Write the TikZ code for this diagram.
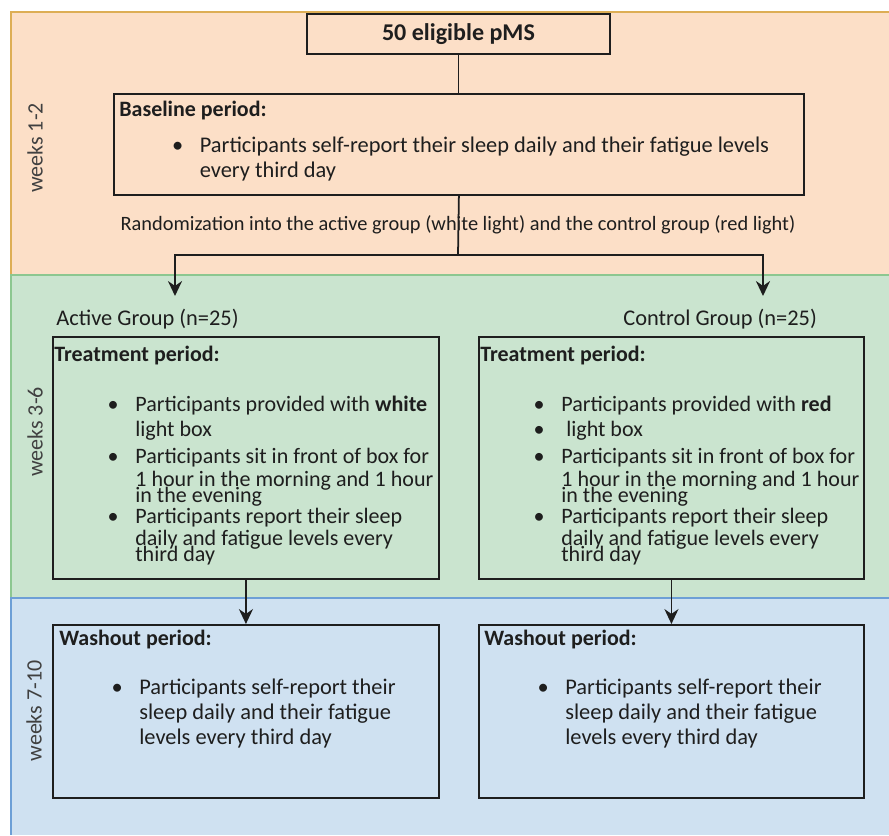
\documentclass[tikz,border=0pt]{standalone}
\usepackage{fontspec}
\setmainfont{Carlito}
\usetikzlibrary{arrows.meta}

\definecolor{peach}{HTML}{FCDFC7}
\definecolor{peachline}{HTML}{DDAE55}
\definecolor{mint}{HTML}{CAE4CF}
\definecolor{mintline}{HTML}{8CC790}
\definecolor{sky}{HTML}{CFE1F1}
\definecolor{skyline}{HTML}{6D9FD6}
\definecolor{ink}{HTML}{1E1E1E}
\newcommand{\bul}{\llap{\textbullet\hspace{9.5pt}}}
\newcommand{\bodyfont}{\fontsize{12.75}{15}\selectfont}

\begin{document}
\begin{tikzpicture}[x=0.02cm,y=-0.02cm,>={Stealth[length=8.5pt,width=8pt]},
  box/.style={draw=ink,line width=1.1pt,anchor=north west,inner sep=0pt},
  ln/.style={anchor=base west,inner sep=0pt,text=ink,font=\bodyfont},
  tl/.style={ln,font=\fontsize{12.55}{15}\selectfont},
  hd/.style={ln,font=\fontsize{12.5}{15}\selectfont\bfseries},
  conn/.style={draw=ink,line width=1pt},
  wk/.style={rotate=90,inner sep=0pt,text=ink!85,font=\fontsize{12.5}{15}\selectfont}]
\useasboundingbox (0,0) rectangle (889,835);

% phase bands
\fill[peach] (11,12) rectangle (889,275);
\fill[mint] (11,275) rectangle (889,598);
\fill[sky] (11,598) rectangle (889,835);
\draw[peachline,line width=1.2pt] (889,12) -- (11,12) -- (11,275);
\draw[mintline,line width=1.2pt] (889,275) -- (11,275) -- (11,598);
\draw[skyline,line width=1.2pt] (889,598) -- (11,598) -- (11,835);

\node[wk] (wk1) at (35,148) {weeks 1-2};
\node[wk] (wk2) at (35,432) {weeks 3-6};
\node[wk] (wk3) at (34,711) {weeks 7-10};

% boxes
\node[box,minimum width=6.06cm,minimum height=0.8cm,text=ink,
  font=\fontsize{13.7}{16}\selectfont\bfseries] (pms) at (306,13) {50 eligible pMS};
\node[box,minimum width=13.8cm,minimum height=2.02cm] (base) at (113,93) {};
\node[box,minimum width=7.72cm,minimum height=4.84cm] (treatA) at (52,336) {};
\node[box,minimum width=7.70cm,minimum height=4.84cm] (treatC) at (478,336) {};
\node[box,minimum width=7.72cm,minimum height=3.46cm] (washA) at (52,624) {};
\node[box,minimum width=7.70cm,minimum height=3.46cm] (washC) at (478,624) {};

% baseline text
\node[hd] (baseHd) at (119,116) {Baseline period:};
\node[ln] (baseL1) at (199.5,152) {\bul Participants self-report their sleep daily and their fatigue levels};
\node[ln] (baseL2) at (199.5,177) {every third day};
\node[ln,anchor=base,font=\fontsize{11.6}{14}\selectfont] (rand) at (458,230)
  {Randomization into the active group (white light) and the control group (red light)};

% groups
\node[ln] (actLab) at (56,325) {Active Group (n=25)};
\node[ln] (ctlLab) at (623,325) {Control Group (n=25)};

\node[hd] (treatAHd) at (54,361.5) {Treatment period:};
\node[hd] (treatCHd) at (480,361.5) {Treatment period:};
\foreach \yy/\txt [count=\i] in {411.7/{\bul Participants provided with \textbf{white}},
    436.7/{light box}, 463/{\bul Participants sit in front of box for},
    486/{1 hour in the morning and 1 hour}, 502/{in the evening},
    523/{\bul Participants report their sleep}, 545/{daily and fatigue levels every},
    561.7/{third day}}
  \node[tl] (tA\i) at (135,\yy) {\txt};
\foreach \yy/\txt [count=\i] in {411.7/{\bul Participants provided with \textbf{red}},
    436.7/{\bul\hspace{2.8pt}light box}, 463/{\bul Participants sit in front of box for},
    486/{1 hour in the morning and 1 hour}, 502/{in the evening},
    523/{\bul Participants report their sleep}, 545/{daily and fatigue levels every},
    561.7/{third day}}
  \node[tl] (tC\i) at (561,\yy) {\txt};

% washout text
\node[hd] (washAHd) at (59,645) {Washout period:};
\node[hd] (washCHd) at (484,645) {Washout period:};
\foreach \yy/\txt [count=\i] in {694/{\bul Participants self-report their},
    719/{sleep daily and their fatigue}, 744/{levels every third day}}{
  \node[ln] (wA\i) at (139,\yy) {\txt};
  \node[ln] (wC\i) at (565,\yy) {\txt};
}

% connectors
\coordinate (split) at (458,255);
\coordinate (actIn) at (175,296);
\coordinate (ctlIn) at (763,296);
\draw[conn] (pms.south) -- (pms.south |- base.north);
\draw[conn] (base.south) -- (split);
\draw[conn,->] (split) -| (actIn);
\draw[conn,->] (split) -| (ctlIn);
\draw[conn,->] (treatA.south) -- (washA.north);
\draw[conn,->] (treatC.south) -- (washC.north);
\end{tikzpicture}
\end{document}
